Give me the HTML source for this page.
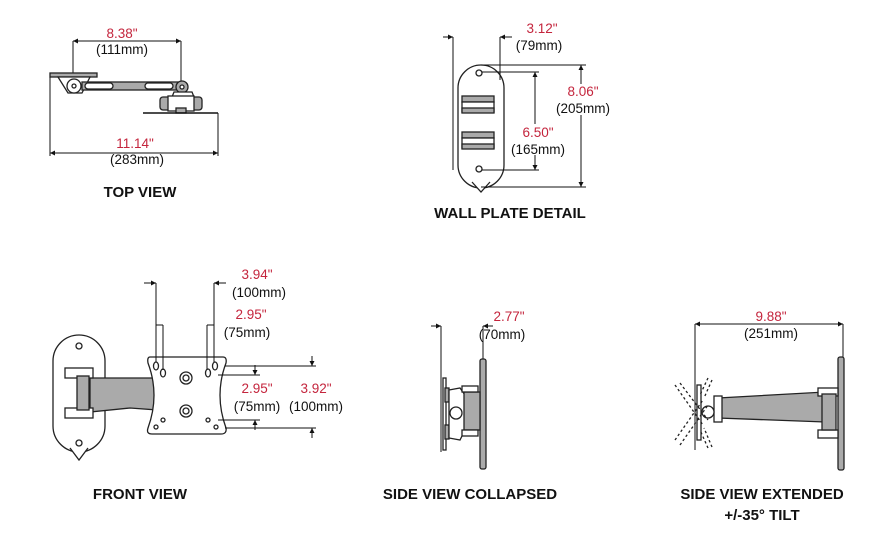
<!DOCTYPE html>
<html><head><meta charset="utf-8"><style>
html,body{margin:0;padding:0;background:#fff;}
svg{display:block;}
.r{fill:#c4253d;font:13.5px "Liberation Sans",sans-serif;text-anchor:middle;}
.k{fill:#111;font:13.5px "Liberation Sans",sans-serif;text-anchor:middle;}
.t{fill:#111;font:bold 15px "Liberation Sans",sans-serif;text-anchor:middle;}
.l{stroke:#111;stroke-width:1;fill:none;}
.s{stroke:#222;stroke-width:1.3;fill:#fff;}
.g{stroke:#222;stroke-width:1.3;fill:#aaa;}
.d{stroke:#222;stroke-width:1.3;fill:none;stroke-dasharray:2.5 2.5;}
</style></head><body>
<svg width="893" height="541" viewBox="0 0 893 541" xmlns="http://www.w3.org/2000/svg">
<defs><marker id="a" viewBox="0 0 10 10" refX="10" refY="5" markerWidth="7" markerHeight="5" orient="auto-start-reverse"><path d="M0,0L10,5L0,10z" fill="#111"/></marker></defs>

<!-- TOP VIEW -->
<line class="l" x1="73" y1="41" x2="181" y2="41" marker-start="url(#a)" marker-end="url(#a)"/>
<line class="l" x1="73" y1="41" x2="73" y2="85"/><line class="l" x1="181" y1="41" x2="181" y2="82"/>
<text class="r" x="122" y="38">8.38"</text><text class="k" x="122" y="54">(111mm)</text>
<rect class="g" x="50" y="73" width="47" height="4"/>
<path class="s" d="M58,77 L68,93 L82,93 L90,77Z"/>
<circle class="s" cx="74" cy="86" r="7"/><circle class="s" cx="74" cy="86" r="2"/>
<rect class="g" x="82" y="82" width="100" height="8"/>
<rect class="s" x="85" y="83" width="28" height="6" rx="3"/><rect class="s" x="145" y="83" width="28" height="6" rx="3"/>
<circle class="g" cx="182" cy="87" r="6"/><circle class="s" cx="182" cy="87" r="2"/>
<path class="s" d="M174,92 L192,92 L194,97 L172,97Z"/>
<rect class="g" x="160" y="97" width="42" height="13" rx="3"/><rect class="s" x="168" y="96" width="26" height="15"/>
<rect class="g" x="176" y="108" width="10" height="5"/>
<line class="l" x1="143" y1="113" x2="218" y2="113" style="stroke-width:1.5"/>
<line class="l" x1="50" y1="153" x2="218" y2="153" marker-start="url(#a)" marker-end="url(#a)"/>
<line class="l" x1="50" y1="77" x2="50" y2="156"/><line class="l" x1="218" y1="113" x2="218" y2="156"/>
<text class="r" x="135" y="148">11.14"</text><text class="k" x="137" y="164">(283mm)</text>
<text class="t" x="140" y="197">TOP VIEW</text>

<!-- WALL PLATE -->
<rect class="s" x="458" y="65" width="46" height="123" rx="23"/>
<path class="s" d="M472,182 L481,192 L490,182"/>
<circle class="s" cx="479" cy="73" r="3"/><circle class="s" cx="479" cy="169" r="3"/>
<rect class="g" x="462" y="96" width="32" height="6"/><rect class="s" x="462" y="102" width="32" height="10"/><rect class="g" x="462" y="108" width="32" height="5"/>
<rect class="g" x="462" y="132" width="32" height="6"/><rect class="s" x="462" y="138" width="32" height="10"/><rect class="g" x="462" y="144" width="32" height="5"/>
<line class="l" x1="443" y1="37" x2="453" y2="37" marker-end="url(#a)"/><line class="l" x1="500" y1="37" x2="512" y2="37" marker-start="url(#a)"/>
<line class="l" x1="453" y1="37" x2="453" y2="170"/><line class="l" x1="500" y1="37" x2="500" y2="80"/>
<text class="r" x="542" y="33">3.12"</text><text class="k" x="539" y="50">(79mm)</text>
<line class="l" x1="481" y1="65" x2="586" y2="65"/><line class="l" x1="481" y1="187" x2="586" y2="187"/>
<line class="l" x1="581" y1="65" x2="581" y2="84" marker-start="url(#a)"/><line class="l" x1="581" y1="115" x2="581" y2="187" marker-end="url(#a)"/>
<text class="r" x="583" y="96">8.06"</text><text class="k" x="583" y="113">(205mm)</text>
<line class="l" x1="482" y1="72" x2="539" y2="72"/><line class="l" x1="482" y1="170" x2="539" y2="170"/>
<line class="l" x1="535" y1="72" x2="535" y2="124" marker-start="url(#a)"/><line class="l" x1="535" y1="155" x2="535" y2="170" marker-end="url(#a)"/>
<text class="r" x="538" y="137">6.50"</text><text class="k" x="538" y="154">(165mm)</text>
<text class="t" x="510" y="218">WALL PLATE DETAIL</text>

<!-- FRONT VIEW -->
<rect class="s" x="53" y="335" width="52" height="117" rx="26"/>
<path class="s" d="M70,448 L79,460 L88,448"/>
<circle class="s" cx="79" cy="346" r="3"/><circle class="s" cx="79" cy="443" r="3"/>
<path class="g" d="M90,378 L158,378 L158,410 L130,408 L90,412Z"/>
<rect class="s" x="65" y="368" width="28" height="10"/><rect class="s" x="65" y="408" width="28" height="10"/>
<rect class="g" x="77" y="376" width="12" height="34"/>
<path class="s" d="M150,357 L223,357 Q227,357 226,363 Q214,395 226,428 Q227,434 221,434 L152,434 Q146,434 148,428 Q160,395 148,363 Q147,357 150,357Z"/>
<circle class="s" cx="186" cy="378" r="6"/><circle class="s" cx="186" cy="378" r="3"/>
<circle class="s" cx="186" cy="411" r="6"/><circle class="s" cx="186" cy="411" r="3"/>
<ellipse class="s" cx="156" cy="366" rx="2.5" ry="4"/><ellipse class="s" cx="163" cy="373" rx="2.5" ry="4"/>
<ellipse class="s" cx="208" cy="373" rx="2.5" ry="4"/><ellipse class="s" cx="215" cy="366" rx="2.5" ry="4"/>
<circle class="s" cx="163" cy="420" r="2"/><circle class="s" cx="208" cy="420" r="2"/><circle class="s" cx="156" cy="427" r="2"/><circle class="s" cx="216" cy="427" r="2"/>
<line class="l" x1="144" y1="283" x2="156" y2="283" marker-end="url(#a)"/><line class="l" x1="214" y1="283" x2="226" y2="283" marker-start="url(#a)"/>
<line class="l" x1="156" y1="283" x2="156" y2="362"/><line class="l" x1="214" y1="283" x2="214" y2="362"/>
<text class="r" x="257" y="279">3.94"</text><text class="k" x="259" y="297">(100mm)</text>
<line class="l" x1="156" y1="325" x2="163" y2="325"/><line class="l" x1="207" y1="325" x2="214" y2="325"/>
<line class="l" x1="163" y1="325" x2="163" y2="370"/><line class="l" x1="207" y1="325" x2="207" y2="370"/>
<text class="r" x="251" y="319">2.95"</text><text class="k" x="247" y="337">(75mm)</text>
<line class="l" x1="218" y1="375" x2="260" y2="375"/><line class="l" x1="218" y1="420" x2="260" y2="420"/>
<line class="l" x1="255" y1="365" x2="255" y2="375" marker-end="url(#a)"/><line class="l" x1="255" y1="430" x2="255" y2="420" marker-end="url(#a)"/>
<line class="l" x1="225" y1="366" x2="316" y2="366"/><line class="l" x1="225" y1="428" x2="316" y2="428"/>
<line class="l" x1="312" y1="356" x2="312" y2="366" marker-end="url(#a)"/><line class="l" x1="312" y1="438" x2="312" y2="428" marker-end="url(#a)"/>
<text class="r" x="257" y="393">2.95"</text><text class="k" x="257" y="411">(75mm)</text>
<text class="r" x="316" y="393">3.92"</text><text class="k" x="316" y="411">(100mm)</text>
<text class="t" x="140" y="499">FRONT VIEW</text>

<!-- SIDE VIEW COLLAPSED -->
<line class="l" x1="431" y1="326" x2="441" y2="326" marker-end="url(#a)"/><line class="l" x1="483" y1="326" x2="493" y2="326" marker-start="url(#a)"/>
<line class="l" x1="441" y1="326" x2="441" y2="452"/><line class="l" x1="483" y1="326" x2="483" y2="360"/>
<text class="r" x="509" y="321">2.77"</text><text class="k" x="502" y="339">(70mm)</text>
<rect class="g" x="480" y="359" width="6" height="110" rx="2"/>
<rect class="s" x="443" y="378" width="3" height="72"/><rect class="g" x="445" y="388" width="4" height="14"/><rect class="g" x="445" y="425" width="4" height="14"/>
<path class="s" d="M449,390 L460,388 L465,395 L470,394 L470,430 L465,430 L460,440 L449,438Z"/>
<circle class="s" cx="456" cy="413" r="6"/>
<rect class="g" x="464" y="392" width="16" height="38"/>
<rect class="s" x="462" y="386" width="16" height="6"/><rect class="s" x="462" y="430" width="16" height="6"/>
<text class="t" x="470" y="499">SIDE VIEW COLLAPSED</text>

<!-- SIDE VIEW EXTENDED -->
<line class="l" x1="695" y1="324" x2="843" y2="324" marker-start="url(#a)" marker-end="url(#a)"/>
<line class="l" x1="695" y1="324" x2="695" y2="450"/><line class="l" x1="843" y1="324" x2="843" y2="358"/>
<text class="r" x="771" y="321">9.88"</text><text class="k" x="771" y="338">(251mm)</text>
<rect class="g" x="838" y="357" width="6" height="113" rx="2"/>
<path class="g" d="M718,398 L825,392 L825,422 L718,418Z"/>
<rect class="s" x="818" y="388" width="20" height="8"/><rect class="s" x="818" y="430" width="20" height="8"/>
<rect class="g" x="822" y="394" width="14" height="36"/>
<rect class="s" x="714" y="396" width="8" height="26"/>
<rect class="s" x="697" y="385" width="4" height="55"/>
<circle class="s" cx="708" cy="412" r="6"/>
<path class="d" d="M675,385 L703,425 M680,383 L708,420 M675,440 L703,400 M680,445 L708,405 M708,378 L700,395 M712,380 L704,398 M708,448 L700,430 M712,447 L704,428"/>
<text class="t" x="762" y="499">SIDE VIEW EXTENDED</text>
<text class="t" x="762" y="520">+/-35° TILT</text>
</svg>
</body></html>
